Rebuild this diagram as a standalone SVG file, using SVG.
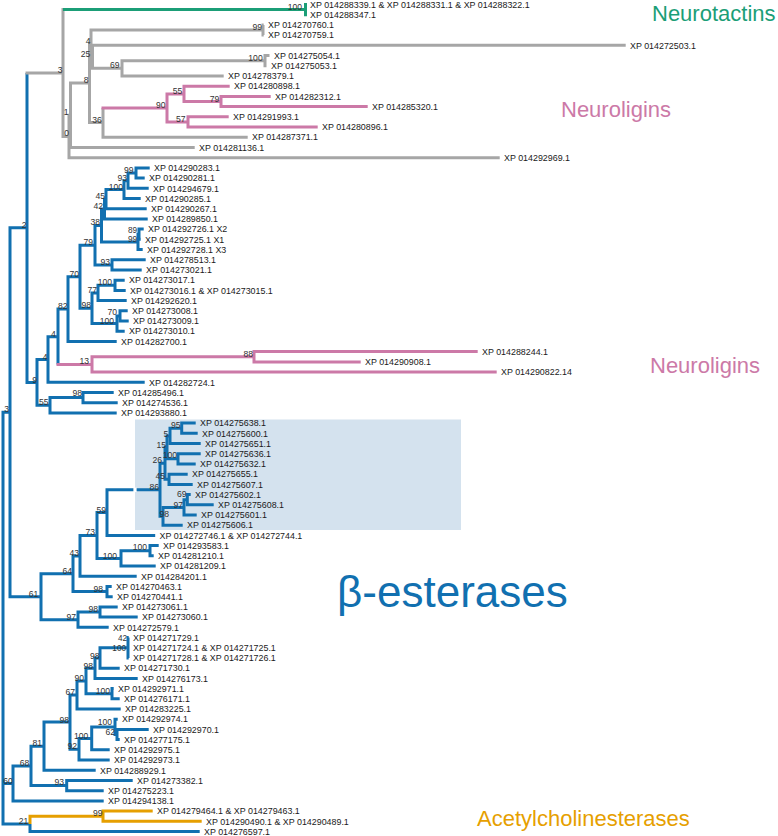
<svg xmlns="http://www.w3.org/2000/svg" width="778" height="836" viewBox="0 0 778 836">
<style>
.c{fill:none;stroke-width:3;stroke-linejoin:miter;stroke-linecap:butt}
.g{stroke:#a6a6a6}.b{stroke:#1170b0}.p{stroke:#cc79a7}.gr{stroke:#1b9e77}.o{stroke:#e69f00}
text{font-family:"Liberation Sans",Arial,sans-serif}
.lf text{font-size:8.9px;fill:#1a1a1a}
.sv text{font-size:8.6px;fill:#333;text-anchor:end}
.sv .sm{font-size:8.2px}
.cl{font-size:22px}
</style>
<rect id="highlight-box" x="135" y="419.5" width="326" height="110.5" fill="#d4e2ee"/>
<g id="connectors" class="c">
<path class="b" d="M27 73V382.5H37"/>
<path class="g" d="M25.5 73H63"/>
<path class="g" d="M63 8.1V136.4H69"/>
<path class="gr" d="M63 9.6H305.5M305.5 3V16.2"/>
<path class="g" d="M70.5 115.2H69V157.7H499.7"/>
<path class="g" d="M89.5 83H70.5V147.4H194.7"/>
<path class="g" d="M91 43.25H89.5V122.6H103"/>
<path class="g" d="M263 30H91V56.8H92.5"/>
<path class="g" d="M263.7 24.9H263V35.1H263.7"/>
<path class="g" d="M625.7 45.3H92.5V68.35H122"/>
<path class="g" d="M265 60.7H122V76H223.7"/>
<path class="g" d="M269.5 55.6H265V65.8H266.5"/>
<path class="g" d="M103 107.9V137.2H247.7"/>
<path class="p" d="M101.5 107.9H167"/>
<path class="p" d="M184 93.9H167V121.9H188"/>
<path class="p" d="M229.7 86.2H184V101.5H221"/>
<path class="p" d="M270.7 96.4H221V106.6H367.7"/>
<path class="p" d="M228.7 116.8H188V127H317.7"/>
<path class="b" d="M27 227.7H10V596.8H41"/>
<path class="b" d="M10 412.3H3V823.9H30M3 783.4H13"/>
<path class="b" d="M48 359.6H37V405.3H50"/>
<path class="b" d="M58 336.8H48V382.3H144.7"/>
<path class="b" d="M68 309.1H58V364.4"/>
<path class="p" d="M56.5 364.4H92"/>
<path class="p" d="M254 356.75H92V372.1H496.7"/>
<path class="p" d="M477.7 351.6H254V361.9H360.7"/>
<path class="b" d="M80 276.8H68V341.4H116.7"/>
<path class="b" d="M95 245.2H80V308.3H92"/>
<path class="b" d="M101.5 225.5H95V264.9H112"/>
<path class="b" d="M145.7 259.8H112V270H141.7"/>
<path class="b" d="M104.5 209H101.5V241.9H138"/>
<path class="b" d="M139 234.2H138V249.5H142.7"/>
<path class="b" d="M143.7 229.1H139V239.3H140.7"/>
<path class="b" d="M106 199.2H104.5V218.9H147.7"/>
<path class="b" d="M124 189.6H106V208.7H146.7"/>
<path class="b" d="M128 180.7H124V198.5H140.7"/>
<path class="b" d="M136 173H128V188.3H148.7"/>
<path class="b" d="M149.7 167.9H136V178.1H144.7"/>
<path class="b" d="M98 293H92V323.6H117"/>
<path class="b" d="M115 285.3H98V300.6H126.7"/>
<path class="b" d="M124.7 280.2H115V290.4H125.7"/>
<path class="b" d="M120 315.9H117V331.2H124.7"/>
<path class="b" d="M127.7 310.8H120V321H128.7"/>
<path class="b" d="M83 397.6H50V412.9H116.7"/>
<path class="b" d="M113.7 392.5H83V402.7H117.7"/>
<path class="b" d="M73 573.8H41V619.7H78"/>
<path class="b" d="M80 555.9H73V591.6H107"/>
<path class="b" d="M111.7 586.5H107V596.7H112.7"/>
<path class="b" d="M97 535.5H80V576.3H136.7"/>
<path class="b" d="M107 512.6H97V558.4H121"/>
<path class="b" d="M160 489.8H107V535.4H155.2"/>
<path class="b" d="M150 550.7H121V566.1H155.7"/>
<path class="b" d="M158.7 545.6H150V555.8H153.7"/>
<path class="b" d="M165 463.3H160V516.3H163"/>
<path class="b" d="M167 447.3H165V479.3H169"/>
<path class="b" d="M170 435.9H167V458.8H178"/>
<path class="b" d="M181.7 428.2H170V443.5H200.7"/>
<path class="b" d="M195.7 423.1H181.7V433.3H197.7"/>
<path class="b" d="M200.7 453.7H178V463.9H195.7"/>
<path class="b" d="M187.7 474.2H169V484.4H192.7"/>
<path class="b" d="M184 507.4H163V525.2H182.7"/>
<path class="b" d="M187.3 499.7H184V515H196.7"/>
<path class="b" d="M190.7 494.6H187.3V504.8H213.7"/>
<path class="b" d="M100 612H78V627.3H108.7"/>
<path class="b" d="M117.7 606.9H100V617.1H137.7"/>
<path class="b" d="M31 765.9H13V800.9H103.7"/>
<path class="b" d="M44 746.2H31V785.6H66.7"/>
<path class="b" d="M132.7 780.5H66.7V790.7H103.7"/>
<path class="b" d="M70 722.1H44V770.3H95.7"/>
<path class="b" d="M77 695H70V749.2H79"/>
<path class="b" d="M86 681H77V709H120.7"/>
<path class="b" d="M95 668.2H86V693.7H112"/>
<path class="b" d="M113.7 688.6H112V698.8H119.7"/>
<path class="b" d="M100 658H95V678.4H137.7"/>
<path class="b" d="M128 647.7H100V668.2H119.7"/>
<path class="b" d="M128.7 637.5H128V657.9H128.7"/>
<path class="b" d="M91.7 738.4H79V760H109.7"/>
<path class="b" d="M115 726.9H91.7V749.8H109.7"/>
<path class="b" d="M117.7 719.2H115V734.5H117"/>
<path class="b" d="M148.7 729.4H117V739.6H119.7"/>
<path class="b" d="M30 823.9V831.5H199.7"/>
<path class="o" d="M103 816.2H30V823.9"/>
<path class="o" d="M152.7 811.1H103V821.3H201.7"/>
</g>
<rect x="133.4" y="487.6" width="3.2" height="4.4" fill="#ffffff"/>
<g class="lf">
<g id="leaf00"><text x="310" y="7.9">XP 014288339.1 &amp; XP 014288331.1 &amp; XP 014288322.1</text></g>
<g id="leaf01"><text x="310" y="17.9">XP 014288347.1</text></g>
<g id="leaf02"><text x="268" y="28.1">XP 014270760.1</text></g>
<g id="leaf03"><text x="268" y="38.3">XP 014270759.1</text></g>
<g id="leaf04"><text x="630" y="48.5">XP 014272503.1</text></g>
<g id="leaf05"><text x="274" y="58.8">XP 014275054.1</text></g>
<g id="leaf06"><text x="271" y="69">XP 014275053.1</text></g>
<g id="leaf07"><text x="228" y="79.2">XP 014278379.1</text></g>
<g id="leaf08"><text x="234" y="89.4">XP 014280898.1</text></g>
<g id="leaf09"><text x="275" y="99.6">XP 014282312.1</text></g>
<g id="leaf10"><text x="372" y="109.8">XP 014285320.1</text></g>
<g id="leaf11"><text x="233" y="120">XP 014291993.1</text></g>
<g id="leaf12"><text x="322" y="130.2">XP 014280896.1</text></g>
<g id="leaf13"><text x="252" y="140.4">XP 014287371.1</text></g>
<g id="leaf14"><text x="199" y="150.6">XP 014281136.1</text></g>
<g id="leaf15"><text x="504" y="160.9">XP 014292969.1</text></g>
<g id="leaf16"><text x="154" y="171.1">XP 014290283.1</text></g>
<g id="leaf17"><text x="149" y="181.3">XP 014290281.1</text></g>
<g id="leaf18"><text x="153" y="191.5">XP 014294679.1</text></g>
<g id="leaf19"><text x="145" y="201.7">XP 014290285.1</text></g>
<g id="leaf20"><text x="151" y="211.9">XP 014290267.1</text></g>
<g id="leaf21"><text x="152" y="222.1">XP 014289850.1</text></g>
<g id="leaf22"><text x="148" y="232.3">XP 014292726.1 X2</text></g>
<g id="leaf23"><text x="145" y="242.5">XP 014292725.1 X1</text></g>
<g id="leaf24"><text x="147" y="252.7">XP 014292728.1 X3</text></g>
<g id="leaf25"><text x="150" y="263">XP 014278513.1</text></g>
<g id="leaf26"><text x="146" y="273.2">XP 014273021.1</text></g>
<g id="leaf27"><text x="129" y="283.4">XP 014273017.1</text></g>
<g id="leaf28"><text x="130" y="293.6">XP 014273016.1 &amp; XP 014273015.1</text></g>
<g id="leaf29"><text x="131" y="303.8">XP 014292620.1</text></g>
<g id="leaf30"><text x="132" y="314">XP 014273008.1</text></g>
<g id="leaf31"><text x="133" y="324.2">XP 014273009.1</text></g>
<g id="leaf32"><text x="129" y="334.4">XP 014273010.1</text></g>
<g id="leaf33"><text x="121" y="344.6">XP 014282700.1</text></g>
<g id="leaf34"><text x="482" y="354.8">XP 014288244.1</text></g>
<g id="leaf35"><text x="365" y="365.1">XP 014290908.1</text></g>
<g id="leaf36"><text x="501" y="375.3">XP 014290822.14</text></g>
<g id="leaf37"><text x="149" y="385.5">XP 014282724.1</text></g>
<g id="leaf38"><text x="118" y="395.7">XP 014285496.1</text></g>
<g id="leaf39"><text x="122" y="405.9">XP 014274536.1</text></g>
<g id="leaf40"><text x="121" y="416.1">XP 014293880.1</text></g>
<g id="leaf41"><text x="200" y="426.3">XP 014275638.1</text></g>
<g id="leaf42"><text x="202" y="436.5">XP 014275600.1</text></g>
<g id="leaf43"><text x="205" y="446.7">XP 014275651.1</text></g>
<g id="leaf44"><text x="205" y="456.9">XP 014275636.1</text></g>
<g id="leaf45"><text x="200" y="467.1">XP 014275632.1</text></g>
<g id="leaf46"><text x="192" y="477.4">XP 014275655.1</text></g>
<g id="leaf47"><text x="197" y="487.6">XP 014275607.1</text></g>
<g id="leaf48"><text x="195" y="497.8">XP 014275602.1</text></g>
<g id="leaf49"><text x="218" y="508">XP 014275608.1</text></g>
<g id="leaf50"><text x="201" y="518.2">XP 014275601.1</text></g>
<g id="leaf51"><text x="187" y="528.4">XP 014275606.1</text></g>
<g id="leaf52"><text x="159.5" y="538.6">XP 014272746.1 &amp; XP 014272744.1</text></g>
<g id="leaf53"><text x="163" y="548.8">XP 014293583.1</text></g>
<g id="leaf54"><text x="158" y="559">XP 014281210.1</text></g>
<g id="leaf55"><text x="160" y="569.3">XP 014281209.1</text></g>
<g id="leaf56"><text x="141" y="579.5">XP 014284201.1</text></g>
<g id="leaf57"><text x="116" y="589.7">XP 014270463.1</text></g>
<g id="leaf58"><text x="117" y="599.9">XP 014270441.1</text></g>
<g id="leaf59"><text x="122" y="610.1">XP 014273061.1</text></g>
<g id="leaf60"><text x="142" y="620.3">XP 014273060.1</text></g>
<g id="leaf61"><text x="113" y="630.5">XP 014272579.1</text></g>
<g id="leaf62"><text x="133" y="640.7">XP 014271729.1</text></g>
<g id="leaf63"><text x="133" y="650.9">XP 014271724.1 &amp; XP 014271725.1</text></g>
<g id="leaf64"><text x="133" y="661.1">XP 014271728.1 &amp; XP 014271726.1</text></g>
<g id="leaf65"><text x="124" y="671.4">XP 014271730.1</text></g>
<g id="leaf66"><text x="142" y="681.6">XP 014276173.1</text></g>
<g id="leaf67"><text x="118" y="691.8">XP 014292971.1</text></g>
<g id="leaf68"><text x="124" y="702">XP 014276171.1</text></g>
<g id="leaf69"><text x="125" y="712.2">XP 014283225.1</text></g>
<g id="leaf70"><text x="122" y="722.4">XP 014292974.1</text></g>
<g id="leaf71"><text x="153" y="732.6">XP 014292970.1</text></g>
<g id="leaf72"><text x="124" y="742.8">XP 014277175.1</text></g>
<g id="leaf73"><text x="114" y="753">XP 014292975.1</text></g>
<g id="leaf74"><text x="114" y="763.2">XP 014292973.1</text></g>
<g id="leaf75"><text x="100" y="773.5">XP 014288929.1</text></g>
<g id="leaf76"><text x="137" y="783.7">XP 014273382.1</text></g>
<g id="leaf77"><text x="108" y="793.9">XP 014275223.1</text></g>
<g id="leaf78"><text x="108" y="804.1">XP 014294138.1</text></g>
<g id="leaf79"><text x="157" y="814.3">XP 014279464.1 &amp; XP 014279463.1</text></g>
<g id="leaf80"><text x="206" y="824.5">XP 014290490.1 &amp; XP 014290489.1</text></g>
<g id="leaf81"><text x="204" y="834.7">XP 014276597.1</text></g>
</g>
<g id="support-values" class="sv">
<text x="302" y="10">100</text><text x="262" y="30.3">99</text><text x="90.5" y="43.5">4</text><text x="90.3" y="56.8">25</text>
<text x="88.5" y="83">8</text><text x="62.5" y="73.3">3</text><text x="68.5" y="115.3">1</text><text x="69" y="136.4">0</text>
<text x="101.7" y="122.6">36</text><text x="119.5" y="68.3">69</text><text x="262.7" y="60.7">100</text><text x="182.3" y="93.9">55</text>
<text x="165.5" y="107.9">90</text><text x="219.3" y="101.5">79</text><text x="185.5" y="121.9">57</text>
<text x="26.5" y="227.7">2</text><text x="133.5" y="172.5">99</text><text x="127" y="180.5">93</text><text x="123" y="189.6">100</text>
<text x="105" y="199">45</text><text x="103" y="208.5">42</text><text x="100" y="225">38</text><text class="sm" x="137" y="232.8">89</text>
<text class="sm" x="137" y="242">99</text><text x="93" y="245">79</text><text x="110" y="264.5">93</text><text x="79" y="276.5">70</text>
<text x="112" y="285">100</text><text x="97" y="292.5">77</text><text x="91" y="308">98</text><text x="117" y="315">70</text>
<text x="114" y="323.5">100</text><text x="67.5" y="309">82</text><text x="55.7" y="337">4</text><text x="89" y="364">13</text>
<text x="253" y="356.5">88</text><text x="47.5" y="359.5">4</text><text x="37" y="382.5">9</text><text x="82" y="396">98</text>
<text x="48.5" y="404.5">55</text><text x="9" y="412">3</text>
<text x="180.5" y="428">95</text><text x="168.3" y="437">5</text><text x="166" y="447.5">15</text><text x="177" y="457.5">100</text>
<text x="162" y="462.5">26</text><text x="165" y="478.5">45</text><text x="159" y="489.5">86</text><text x="186.5" y="497">69</text>
<text x="183" y="507.5">97</text><text x="169" y="517">98</text><text x="106" y="512.5">59</text><text x="95" y="535">73</text>
<text x="147" y="549.5">100</text><text x="117" y="558.5">100</text><text x="79" y="556">43</text><text x="72" y="573.5">64</text>
<text x="103" y="592">98</text><text x="38.3" y="597">61</text><text x="98" y="612">98</text><text x="76" y="619.5">97</text>
<text class="sm" x="127" y="641.3">42</text><text class="sm" x="126" y="650.5">100</text><text x="99.5" y="658.5">98</text><text x="93" y="668.5">98</text>
<text x="84" y="681">90</text><text x="110" y="693.5">100</text><text x="75" y="695">67</text><text x="69" y="723">98</text>
<text x="112" y="725">100</text><text x="115" y="734.5">62</text><text x="88.3" y="738.5">100</text><text x="77" y="748.5">92</text>
<text x="42" y="745.5">81</text><text x="29.3" y="766">68</text><text x="64" y="785">93</text><text x="12.7" y="783.5">60</text>
<text x="102.5" y="816">99</text><text x="28.3" y="823.5">21</text>
</g>
<g id="label-neurotactins"><text class="cl" x="652" y="20.5" fill="#1b9e77">Neurotactins</text></g>
<g id="label-neuroligins-1"><text class="cl" x="561" y="116.5" fill="#cc79a7">Neuroligins</text></g>
<g id="label-neuroligins-2"><text class="cl" x="650" y="373" fill="#cc79a7">Neuroligins</text></g>
<g id="label-beta-esterases"><text x="337" y="607" font-size="44" fill="#1170b0">β-esterases</text></g>
<g id="label-acetylcholinesterases"><text class="cl" x="477" y="826" fill="#e69f00">Acetylcholinesterases</text></g>
</svg>
